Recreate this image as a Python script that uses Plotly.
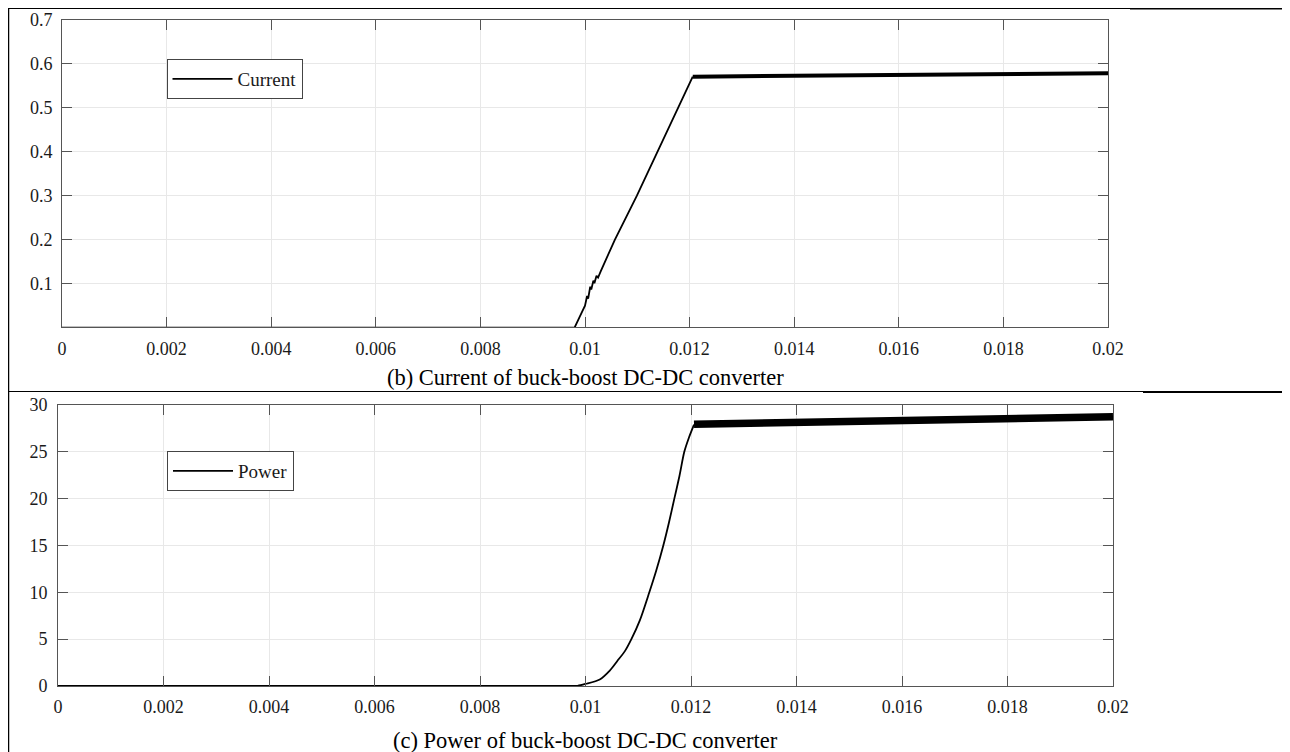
import plotly.graph_objects as go

# ---- data ----
t_cur_rise = [0.0, 0.00980, 0.0099, 0.0100, 0.01004, 0.01006, 0.01010, 0.01012, 0.01016, 0.01018,
              0.01022, 0.01025, 0.0103, 0.01057, 0.01099, 0.01139, 0.01179, 0.01206]
i_rise = [0.0, 0.0, 0.025, 0.050, 0.072, 0.066, 0.093, 0.087, 0.107, 0.101,
          0.118, 0.114, 0.128, 0.200, 0.300, 0.400, 0.500, 0.571]
t_cur_flat = [0.01206, 0.013, 0.014, 0.016, 0.018, 0.02]
i_flat = [0.571, 0.572, 0.574, 0.576, 0.578, 0.579]

t_pow_rise = [0.0, 0.009, 0.0097, 0.00985, 0.0100, 0.01027, 0.01046, 0.0106, 0.01075, 0.01087,
              0.01103, 0.01121, 0.01134, 0.011475, 0.01158, 0.011684, 0.01178, 0.011873,
              0.01196, 0.012057]
p_rise = [0.0, 0.0, 0.0, 0.02, 0.22, 0.7, 1.65, 2.65, 3.75, 5.0,
          7.0, 10.0, 12.3, 15.0, 17.4, 20.0, 22.4, 25.0,
          26.5, 27.9]
t_pow_flat = [0.012057, 0.013, 0.014, 0.016, 0.018, 0.02]
p_flat = [27.95, 28.05, 28.2, 28.4, 28.6, 28.75]

x_ticks = [0, 0.002, 0.004, 0.006, 0.008, 0.01, 0.012, 0.014, 0.016, 0.018, 0.02]
x_labels = ["0", "0.002", "0.004", "0.006", "0.008", "0.01", "0.012", "0.014", "0.016", "0.018", "0.02"]
y1_ticks = [0.1, 0.2, 0.3, 0.4, 0.5, 0.6, 0.7]
y1_labels = ["0.1", "0.2", "0.3", "0.4", "0.5", "0.6", "0.7"]
y2_ticks = [0, 5, 10, 15, 20, 25, 30]
y2_labels = ["0", "5", "10", "15", "20", "25", "30"]

captions = ["(b) Current of buck-boost DC-DC converter", "(c) Power of buck-boost DC-DC converter"]

# page is shown with the default 8px body margin
OFF = 8
W, H = 1290 - OFF, 752 - OFF

FONT = "Liberation Serif, Times New Roman, serif"
AX = "#555555"
GRID = "#e8e8e8"


def fx(p):
    return (p - OFF) / W


def fy(p):
    return 1 - (p - OFF) / H


fig = go.Figure()
fig.add_trace(go.Scatter(x=t_cur_rise, y=i_rise, mode="lines", name="Current",
                         line=dict(color="black", width=1.8), xaxis="x", yaxis="y", legend="legend"))
fig.add_trace(go.Scatter(x=t_cur_flat, y=i_flat, mode="lines", showlegend=False,
                         line=dict(color="black", width=4), xaxis="x", yaxis="y"))
fig.add_trace(go.Scatter(x=t_pow_rise, y=p_rise, mode="lines", name="Power",
                         line=dict(color="black", width=1.8, shape="spline", smoothing=0.8),
                         xaxis="x2", yaxis="y2", legend="legend2"))
fig.add_trace(go.Scatter(x=t_pow_flat, y=p_flat, mode="lines", showlegend=False,
                         line=dict(color="black", width=7.5), xaxis="x2", yaxis="y2"))

common = dict(showline=True, linecolor=AX, linewidth=1, mirror="ticks", ticks="inside",
              ticklen=10, tickcolor=AX, tickwidth=1, showgrid=True, gridcolor=GRID, gridwidth=1,
              zeroline=False, automargin=False,
              tickfont=dict(family=FONT, size=18, color="#1a1a1a"))

legend_common = dict(xanchor="left", yanchor="top", bgcolor="white", bordercolor="#444",
                     borderwidth=1, font=dict(family=FONT, size=19, color="#1a1a1a"),
                     tracegroupgap=0, itemwidth=60)

fig.update_layout(
    width=W, height=H, margin=dict(l=0, r=0, t=0, b=0, autoexpand=False),
    paper_bgcolor="white", plot_bgcolor="white",
    xaxis=dict(domain=[fx(62), fx(1108)], range=[0, 0.02], tickvals=x_ticks, ticktext=x_labels,
               anchor="y", ticklabelstandoff=5, **common),
    yaxis=dict(domain=[fy(327), fy(20)], range=[0.0015, 0.7], tickvals=y1_ticks, ticktext=y1_labels,
               anchor="x", ticklabelstandoff=5, **common),
    xaxis2=dict(domain=[fx(58), fx(1113)], range=[0, 0.02], tickvals=x_ticks, ticktext=x_labels,
                anchor="y2", ticklabelstandoff=4, **common),
    yaxis2=dict(domain=[fy(686), fy(405)], range=[0, 30], tickvals=y2_ticks, ticktext=y2_labels,
                anchor="x2", ticklabelstandoff=6, **common),
    legend=dict(x=fx(166.5), y=fy(59), **legend_common),
    legend2=dict(x=fx(167), y=fy(451), **legend_common),
    showlegend=True,
)

# captions
fig.add_annotation(x=fx(585), y=fy(377), xref="paper", yref="paper", text=captions[0],
                   showarrow=False, xanchor="center", yanchor="middle",
                   font=dict(family=FONT, size=22.5, color="black"))
fig.add_annotation(x=fx(585), y=fy(740), xref="paper", yref="paper", text=captions[1],
                   showarrow=False, xanchor="center", yanchor="middle",
                   font=dict(family=FONT, size=22.5, color="black"))


# document table borders
def hline(y, x0, x1, color="black", width=1):
    fig.add_shape(type="line", xref="paper", yref="paper", x0=fx(x0), x1=fx(x1),
                  y0=fy(y), y1=fy(y), line=dict(color=color, width=width))


hline(OFF, OFF, 1130, width=2)
hline(OFF, 1130, 1290, width=3)
hline(391.5, OFF, 1143, width=1.2)
hline(392, 1143, 1290, width=2)
fig.add_shape(type="line", xref="paper", yref="paper", x0=0, x1=0, y0=0, y1=1,
              line=dict(color="black", width=2.5))

fig.write_html("out.html")
